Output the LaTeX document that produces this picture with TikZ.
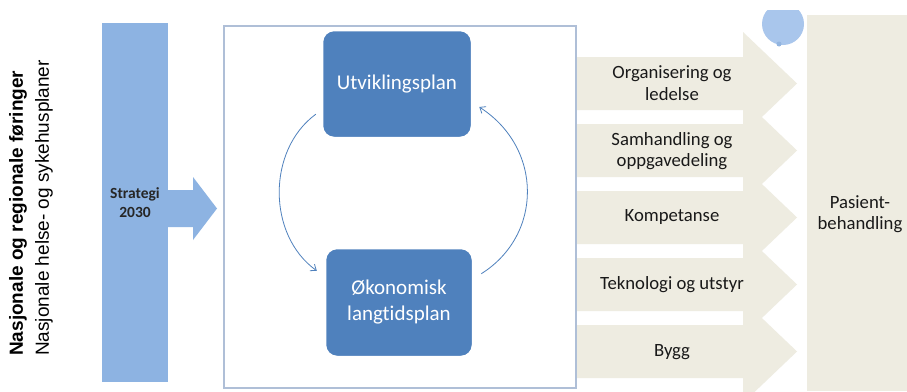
\documentclass[tikz,border=0pt]{standalone}
\usepackage{fontspec}
\setmainfont{Carlito}[Ligatures=NoCommon]
\newfontfamily\arialf{Liberation Sans}
\usetikzlibrary{arrows.meta,calc}
\definecolor{barblue}{HTML}{8DB3E2}
\definecolor{boxblue}{HTML}{4F81BD}
\definecolor{tanc}{HTML}{EEECE1}
\definecolor{framec}{HTML}{AFBFD7}
\definecolor{dropc}{HTML}{A9C6EC}
\begin{document}
\begin{tikzpicture}[x=1pt,y=-1pt,
  planbox/.style={rounded corners=12pt, fill=boxblue, draw=white, line width=2.5pt, text=white, font=\fontsize{21}{26}\selectfont, align=center, inner sep=0pt},
  rowtext/.style={font=\fontsize{18.7}{21.5}\selectfont, align=center, text=black!90},
  cyc/.style={draw=boxblue, line width=0.8pt, -{Straight Barb[length=5pt,width=8pt]}},
  chev/.style={fill=tanc, draw=none}]
\useasboundingbox (0,0) rectangle (907,391);
\fill[white] (0,0) rectangle (907,391);
% right column
\fill[tanc] (807,15) rectangle (907,391);
\node[rowtext] (pas) at (860,214) {Pasient-\\behandling};
% chevrons
\foreach \t in {57,124,191,258,325}
  \fill[chev] (560,\t) -- (743,\t) -- (743,\t-25) -- (797,\t+26.5) -- (743,\t+78) -- (743,\t+53) -- (560,\t+53) -- cycle;
\node[rowtext] (r1) at (672,83) {Organisering og\\ledelse};
\node[rowtext] (r2) at (672,151) {Samhandling og\\oppgavedeling};
\node[rowtext] (r3) at (672,217) {Kompetanse};
\node[rowtext] (r4) at (672,285) {Teknologi og utstyr};
\node[rowtext] (r5) at (672,352) {Bygg};
% drop
\begin{scope}
  \clip (740,10) rectangle (830,60);
  \fill[dropc] (783,24) circle (21);
\end{scope}
\fill[dropc!75!boxblue] (779,44) circle (2.5);
% frame
\node[draw=framec, line width=1.5pt, fill=white, minimum width=352pt, minimum height=362pt, inner sep=0pt, anchor=north west] (frame) at (223,25) {};
% bar
\node[fill=barblue, minimum width=66pt, minimum height=359pt, inner sep=0pt, font=\bfseries\fontsize{15.5}{19}\selectfont, align=center, text=black!85] (bar) at (135,202.5) {Strategi\\2030};
% strategi arrow
\fill[barblue] (168,190) -- (193,190) -- (193,177) -- (217,208.5) -- (193,240) -- (193,227) -- (168,227) -- cycle;
% plan boxes
\node[planbox, minimum width=150pt, minimum height=108pt] (utv) at (397,84) {Utviklingsplan};
\node[planbox, minimum width=148pt, minimum height=109pt] (oko) at (399,302.5) {Økonomisk\\langtidsplan};
\draw[cyc] ([xshift=-5pt,yshift=25pt]utv.south west) .. controls (267,150) and (267,235) .. ([xshift=-7pt,yshift=-24pt]oko.north west);
\draw[cyc] ([xshift=7pt,yshift=-27pt]oko.north east) .. controls (543,235) and (543,148) .. ([xshift=6pt,yshift=-23pt]utv.east);
% rotated text
\node[rotate=90, anchor=west, align=left, inner sep=0pt, font=\arialf\fontsize{19}{26}\selectfont] (lefttxt) at (31,356) {\textbf{Nasjonale og regionale føringer}\\Nasjonale helse- og sykehusplaner};
\end{tikzpicture}
\end{document}
